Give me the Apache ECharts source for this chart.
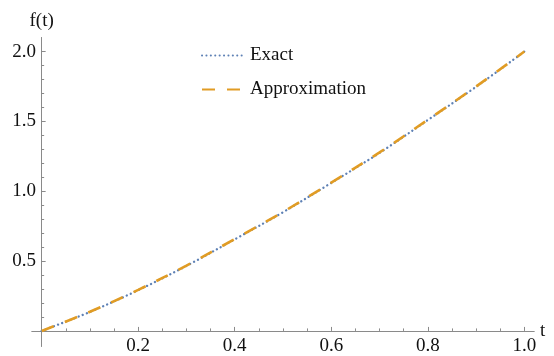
<!DOCTYPE html>
<html>
<head>
<meta charset="utf-8">
<script src="https://cdn.jsdelivr.net/npm/echarts@6/dist/echarts.min.js"></script>
<style>
html,body{margin:0;padding:0;background:#fff;}
#c{width:554px;height:356px;}
</style>
</head>
<body>
<div id="c"></div>
<script>
// Data
var tValues = [0, 0.1, 0.2, 0.3, 0.4, 0.5, 0.6, 0.7, 0.8, 0.9, 1.0];
var exactValues = [0, 0.136, 0.292, 0.466, 0.656, 0.85, 1.06, 1.275, 1.51, 1.748, 2.0];
var approxValues = [0, 0.137, 0.294, 0.468, 0.658, 0.852, 1.062, 1.278, 1.512, 1.75, 2.0];
var xMajorTicks = [0.2, 0.4, 0.6, 0.8, 1.0];
var xMinorTicks = [0.05, 0.1, 0.15, 0.25, 0.3, 0.35, 0.45, 0.5, 0.55, 0.65, 0.7, 0.75, 0.85, 0.9, 0.95];
var yMajorTicks = [0.5, 1.0, 1.5, 2.0];
var yMinorTicks = [0.1, 0.2, 0.3, 0.4, 0.6, 0.7, 0.8, 0.9, 1.1, 1.2, 1.3, 1.4, 1.6, 1.7, 1.8, 1.9];
var seriesNames = ['Exact', 'Approximation'];

function pairs(xs, ys) { return xs.map(function (x, i) { return [x, ys[i]]; }); }

var FONT = '"Liberation Serif", "Times New Roman", serif';
var AXIS_COLOR = '#8a8a8a';
var TEXT_COLOR = '#111';
var FS = 19;

var chart = echarts.init(document.getElementById('c'), null, {renderer: 'canvas'});
var xRange = {min: -0.02, max: 1.02};
var yRange = {min: -0.11, max: 2.1};

function fmt(v) { return v.toFixed(1); }

chart.setOption({
  animation: false,
  backgroundColor: '#fff',
  grid: {left: 32, right: 20, top: 37.6, bottom: 9.7, containLabel: false, outerBoundsMode: 'none'},
  legend: {
    orient: 'vertical',
    left: 196,
    top: 41,
    itemWidth: 42,
    itemHeight: 18,
    itemGap: 15,
    itemStyle: {opacity: 0, borderWidth: 0},
    textStyle: {fontFamily: FONT, fontSize: FS, color: TEXT_COLOR, lineHeight: 18, padding: [0, 0, 0, 1]},
    data: seriesNames
  },
  xAxis: [{
    // axis line on zero with major ticks and name
    type: 'value', min: xRange.min, max: xRange.max,
    position: 'bottom',
    name: 't', nameLocation: 'end', nameGap: 6,
    nameTextStyle: {fontFamily: FONT, fontSize: FS, color: TEXT_COLOR, verticalAlign: 'middle', padding: [3, 0, 0, 0]},
    axisLine: {show: true, onZero: true, lineStyle: {color: AXIS_COLOR, width: 1}},
    axisTick: {show: true, inside: true, length: 4, customValues: xMajorTicks, lineStyle: {color: AXIS_COLOR}},
    axisLabel: {show: false},
    splitLine: {show: false}
  }, {
    // minor ticks
    type: 'value', min: xRange.min, max: xRange.max,
    position: 'bottom',
    axisLine: {show: true, onZero: true, lineStyle: {color: AXIS_COLOR, width: 1}},
    axisTick: {show: true, inside: true, length: 2.5, customValues: xMinorTicks, lineStyle: {color: AXIS_COLOR}},
    axisLabel: {show: false},
    splitLine: {show: false}
  }, {
    // tick labels
    type: 'value', min: xRange.min, max: xRange.max,
    position: 'bottom',
    axisLine: {show: false, onZero: false},
    axisTick: {show: false},
    axisLabel: {show: true, customValues: xMajorTicks, margin: -10, fontFamily: FONT, fontSize: FS, color: TEXT_COLOR, formatter: fmt},
    splitLine: {show: false}
  }],
  yAxis: [{
    type: 'value', min: yRange.min, max: yRange.max,
    position: 'left',
    name: 'f(t)', nameLocation: 'end', nameGap: 7,
    nameTextStyle: {fontFamily: FONT, fontSize: FS, color: TEXT_COLOR, align: 'center'},
    axisLine: {show: true, onZero: true, lineStyle: {color: AXIS_COLOR, width: 1}},
    axisTick: {show: true, inside: true, length: 4, customValues: yMajorTicks, lineStyle: {color: AXIS_COLOR}},
    axisLabel: {show: false},
    splitLine: {show: false}
  }, {
    type: 'value', min: yRange.min, max: yRange.max,
    position: 'left',
    axisLine: {show: true, onZero: true, lineStyle: {color: AXIS_COLOR, width: 1}},
    axisTick: {show: true, inside: true, length: 2.5, customValues: yMinorTicks, lineStyle: {color: AXIS_COLOR}},
    axisLabel: {show: false},
    splitLine: {show: false}
  }, {
    type: 'value', min: yRange.min, max: yRange.max,
    position: 'left',
    axisLine: {show: false, onZero: false},
    axisTick: {show: false},
    axisLabel: {show: true, customValues: yMajorTicks, margin: -4, fontFamily: FONT, fontSize: FS, color: TEXT_COLOR, formatter: fmt},
    splitLine: {show: false}
  }],
  series: [{
    name: seriesNames[0], type: 'line', xAxisIndex: 0, yAxisIndex: 0,
    data: pairs(tValues, exactValues),
    smooth: 0.35, symbol: 'none', showSymbol: false,
    lineStyle: {color: '#5E81B5', width: 2.3, type: [0.1, 4.3], cap: 'round'},
    itemStyle: {color: '#5E81B5'}
  }, {
    name: seriesNames[1], type: 'line', xAxisIndex: 0, yAxisIndex: 0,
    data: pairs(tValues, approxValues),
    smooth: 0.35, symbol: 'none', showSymbol: false,
    lineStyle: {color: '#E19C24', width: 2.6, type: [13, 12], cap: 'butt'},
    itemStyle: {color: '#E19C24'}
  }]
});
</script>
</body>
</html>
